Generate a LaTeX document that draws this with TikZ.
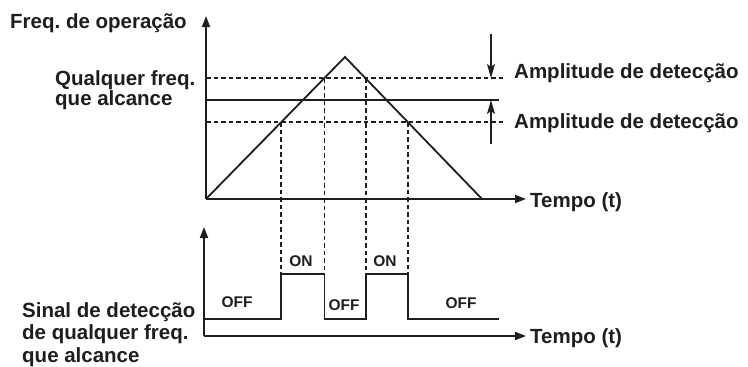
\documentclass[tikz,border=0pt]{standalone}
\usepackage{fontspec}
\setmainfont{Liberation Sans}
\frenchspacing
\usetikzlibrary{arrows.meta}
\definecolor{ink}{RGB}{30,30,30}
\tikzset{
  ln/.style={draw=ink, line width=1.8pt},
  dsh/.style={draw=ink, line width=1.6pt, dash pattern=on 4.5pt off 3pt},
  axarrow/.style={ln, -{Triangle[length=11pt,width=8pt]}},
  amparrow/.style={draw=ink, line width=1.3pt, -{Stealth[length=14pt,width=8pt,inset=3pt]}},
  big/.style={inner sep=0pt, text=ink, font=\fontsize{20.5}{22}\selectfont\bfseries, anchor=base west},
  small/.style={inner sep=0pt, text=ink, font=\fontsize{15.5}{17}\selectfont\bfseries, anchor=center},
}
\begin{document}
\begin{tikzpicture}[x=1pt,y=-1pt]
\useasboundingbox (0,0) rectangle (748,367);
% upper chart coordinates
\coordinate (O1) at (206,199);
\coordinate (Y1) at (206,16);
\coordinate (X1) at (526,199);
\coordinate (P) at (345,57);
\coordinate (E) at (482,199);
\coordinate (HL) at (206,100);
\coordinate (HR) at (499,100);
\coordinate (TL) at (206,78);
\coordinate (TR) at (503,78);
\coordinate (BL) at (206,122);
\coordinate (BR) at (503,122);
\coordinate (A1s) at (491,34);
\coordinate (A1e) at (491,78);
\coordinate (A2s) at (491,144);
\coordinate (A2e) at (491,100);
% crossing points
\coordinate (c1) at (281,122);
\coordinate (c2) at (324.5,78);
\coordinate (c3) at (366,78);
\coordinate (c4) at (408,122);
% lower chart
\coordinate (O2) at (204,336);
\coordinate (Y2) at (204,227);
\coordinate (X2) at (526,336);
\coordinate (s0) at (204,319);
\coordinate (s1) at (281,319);
\coordinate (s2) at (281,274);
\coordinate (s3) at (324.5,274);
\coordinate (s4) at (324.5,319);
\coordinate (s5) at (366,319);
\coordinate (s6) at (366,274);
\coordinate (s7) at (408,274);
\coordinate (s8) at (408,319);
\coordinate (s9) at (499,319);

% dashed lines
\draw[dsh] (TL) -- (TR);
\draw[dsh] (BL) -- (BR);
\draw[dsh] (c1) -- (s2);
\draw[dsh] (c2) -- (s3);
\draw[dsh] (c3) -- (s6);
\draw[dsh] (c4) -- (s7);
% solid
\draw[ln] (HL) -- (HR);
\draw[ln, line join=miter] (O1) -- (P) -- (E);
\draw[axarrow] (O1) -- (Y1);
\draw[axarrow] (O1) -- (X1);
\draw[amparrow] (A1s) -- (A1e);
\draw[amparrow] (A2s) -- (A2e);
% lower
\draw[axarrow] (O2) -- (Y2);
\draw[axarrow] (O2) -- (X2);
\draw[ln, line join=miter] (s0) -- (s1) -- (s2) -- (s3) -- (s4) -- (s5) -- (s6) -- (s7) -- (s8) -- (s9);

% texts
\node[big] (freq) at (10,28) {Freq. de operação};
\node[big] (qf1) at (55,85) {Qualquer freq.};
\node[big] (qf2) at (55,105) {que alcance};
\node[big] (amp1) at (514,78) {Amplitude de detecção};
\node[big] (amp2) at (514,128) {Amplitude de detecção};
\node[big] (t1) at (530,207) {Tempo (t)};
\node[big] (t2) at (530,343) {Tempo (t)};
\node[big] (sd1) at (22,317) {Sinal de detecção};
\node[big] (sd2) at (22,339) {de qualquer freq.};
\node[big] (sd3) at (22,362) {que alcance};
\node[small] (on1) at (301,261) {ON};
\node[small] (on2) at (385,261) {ON};
\node[small] (off1) at (237,302) {OFF};
\node[small] (off2) at (344,305) {OFF};
\node[small] (off3) at (461,303) {OFF};
\end{tikzpicture}
\end{document}
